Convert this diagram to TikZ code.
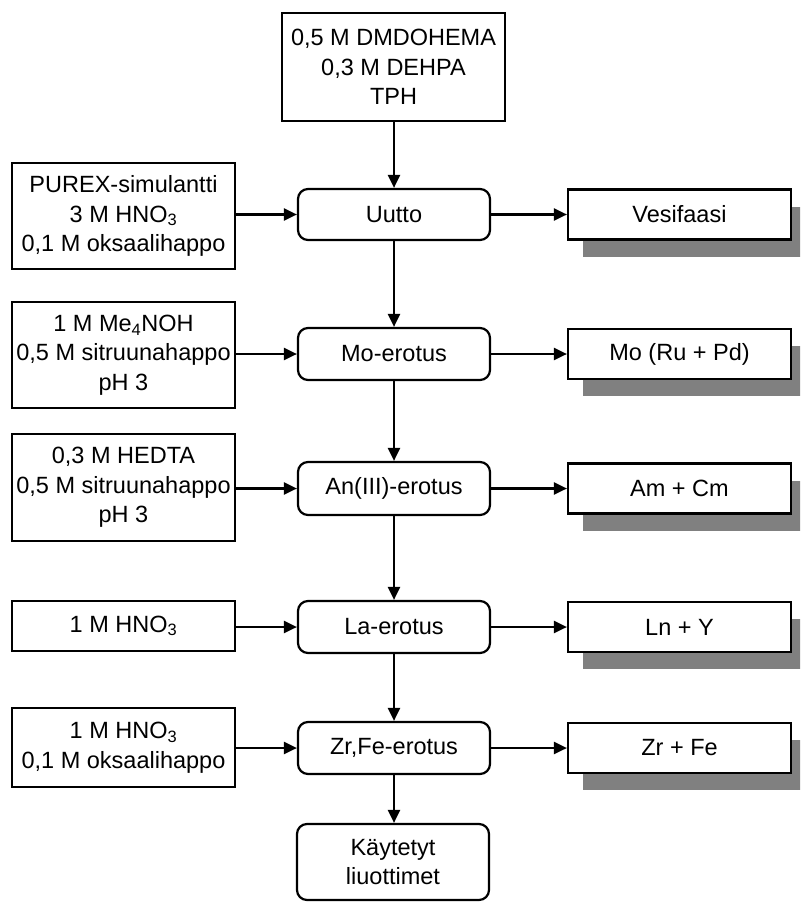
\documentclass[tikz,border=0pt]{standalone}
\usepackage{fontspec}
\setmainfont{Liberation Sans}
\usetikzlibrary{arrows.meta,shadows}
\begin{document}
\begin{tikzpicture}[x=1pt,y=-1pt,
  every node/.style={font=\fontsize{23.5}{29.5}\selectfont, inner sep=0pt, align=center},
  plain/.style={draw, line width=2.2pt, fill=white, minimum width=223pt},
  stage/.style={draw, line width=2.2pt, fill=white, rounded corners=10pt, minimum width=192pt, minimum height=52pt},
  product/.style={plain, minimum height=50pt,
    drop shadow={shadow xshift=15pt, shadow yshift=-17pt, fill=black!50, opacity=1}},
  arr/.style={line width=2.2pt, -{Triangle[length=13pt,width=12pt]}}]
\useasboundingbox (0,0) rectangle (800,904);
\clip (0,0) rectangle (800,904);

% solvent feed
\node[plain, minimum height=108pt] (solv) at (393.5,67)
  {0,5 M DMDOHEMA\\0,3 M DEHPA\\TPH};

% process stages
\node[stage, minimum height=51pt] (uutto) at (394,214.5) {Uutto};
\node[stage] (mo) at (394,354) {Mo-erotus};
\node[stage, minimum height=53pt] (an) at (394,488.5) {An(III)-erotus};
\node[stage] (la) at (394,627) {La-erotus};
\node[stage] (zr) at (394,748) {Zr,Fe-erotus};
\node[stage, minimum height=76pt] (used) at (393,862) {Käytetyt\\liuottimet};

% aqueous feeds
\node[plain, minimum height=106pt] (f1) at (123.5,216)
  {PUREX-simulantti\\3 M HNO\textsubscript{3}\\0,1 M oksaalihappo};
\node[plain, minimum height=106pt] (f2) at (123.5,355)
  {1 M Me\textsubscript{4}NOH\\\makebox[223pt][c]{0,5 M sitruunahappo}\\pH 3};
\node[plain, minimum height=107pt] (f3) at (123.5,487.5)
  {0,3 M HEDTA\\\makebox[223pt][c]{0,5 M sitruunahappo}\\pH 3};
\node[plain, minimum height=50pt] (f4) at (123.5,626)
  {1 M HNO\textsubscript{3}};
\node[plain, minimum height=79pt] (f5) at (123.5,747.5)
  {1 M HNO\textsubscript{3}\\0,1 M oksaalihappo};

% products
\node[product] (p1) at (679.5,214.5) {Vesifaasi};
\node[product] (p2) at (679.5,354) {Mo (Ru + Pd)};
\node[product] (p3) at (679.5,488.5) {Am + Cm};
\node[product] (p4) at (679.5,627) {Ln + Y};
\node[product] (p5) at (679.5,748) {Zr + Fe};

% main flow
\draw[arr] (solv.south -| uutto) -- (uutto.north);
\draw[arr] (uutto.south) -- (mo.north);
\draw[arr] (mo.south) -- (an.north);
\draw[arr] (an.south) -- (la.north);
\draw[arr] (la.south) -- (zr.north);
\draw[arr] (zr.south) -- (used.north -| zr);

% feeds in
\draw[arr] (f1.east |- uutto) -- (uutto.west);
\draw[arr] (f2.east |- mo) -- (mo.west);
\draw[arr] (f3.east |- an) -- (an.west);
\draw[arr] (f4.east |- la) -- (la.west);
\draw[arr] (f5.east |- zr) -- (zr.west);

% products out
\draw[arr] (uutto.east) -- (p1.west);
\draw[arr] (mo.east) -- (p2.west);
\draw[arr] (an.east) -- (p3.west);
\draw[arr] (la.east) -- (p4.west);
\draw[arr] (zr.east) -- (p5.west);
\end{tikzpicture}
\end{document}
